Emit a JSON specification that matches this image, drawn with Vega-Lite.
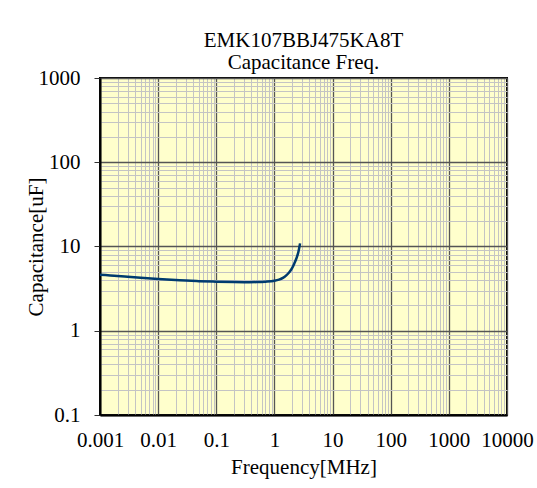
{
  "$schema": "https://vega.github.io/schema/vega-lite/v6.json",
  "width": 407,
  "height": 337,
  "autosize": {"type": "none"},
  "padding": {"left": 100, "top": 78, "right": 30, "bottom": 73},
  "background": "white",
  "config": {
    "font": "Liberation Serif",
    "view": {"fill": "#ffffcc", "stroke": "#000000", "strokeWidth": 2}
  },
  "title": {
    "text": ["EMK107BBJ475KA8T", "Capacitance Freq."],
    "font": "Liberation Serif",
    "fontSize": 21,
    "fontWeight": "normal",
    "color": "#000000",
    "lineHeight": 22,
    "anchor": "middle",
    "frame": "group",
    "offset": -6
  },
  "data": {
    "values": [
      {"freq": 0.001, "cap": 4.62},
      {"freq": 0.002, "cap": 4.48},
      {"freq": 0.003, "cap": 4.38},
      {"freq": 0.005, "cap": 4.26},
      {"freq": 0.01, "cap": 4.12},
      {"freq": 0.02, "cap": 4.0},
      {"freq": 0.03, "cap": 3.94},
      {"freq": 0.05, "cap": 3.88},
      {"freq": 0.1, "cap": 3.82},
      {"freq": 0.2, "cap": 3.78},
      {"freq": 0.3, "cap": 3.77},
      {"freq": 0.5, "cap": 3.78},
      {"freq": 0.7, "cap": 3.82},
      {"freq": 1.0, "cap": 3.92},
      {"freq": 1.2, "cap": 4.05},
      {"freq": 1.4, "cap": 4.25},
      {"freq": 1.6, "cap": 4.55},
      {"freq": 1.8, "cap": 4.95},
      {"freq": 2.0, "cap": 5.5},
      {"freq": 2.2, "cap": 6.3},
      {"freq": 2.4, "cap": 7.3},
      {"freq": 2.6, "cap": 8.8},
      {"freq": 2.76, "cap": 10.9}
    ]
  },
  "mark": {"type": "line", "interpolate": "monotone", "color": "#003b6f", "strokeWidth": 2.5},
  "encoding": {
    "x": {
      "field": "freq",
      "type": "quantitative",
      "scale": {"type": "log", "domain": [0.001, 10000], "nice": false},
      "axis": {
        "values": [0.001, 0.002, 0.003, 0.004, 0.005, 0.006, 0.007, 0.008, 0.009,
                   0.01, 0.02, 0.03, 0.04, 0.05, 0.06, 0.07, 0.08, 0.09,
                   0.1, 0.2, 0.3, 0.4, 0.5, 0.6, 0.7, 0.8, 0.9,
                   1, 2, 3, 4, 5, 6, 7, 8, 9,
                   10, 20, 30, 40, 50, 60, 70, 80, 90,
                   100, 200, 300, 400, 500, 600, 700, 800, 900,
                   1000, 2000, 3000, 4000, 5000, 6000, 7000, 8000, 9000, 10000],
        "title": "Frequency[MHz]",
        "titleFont": "Liberation Serif",
        "titleFontSize": 21,
        "titleFontWeight": "normal",
        "titleColor": "#000000",
        "titlePadding": 6,
        "labelFont": "Liberation Serif",
        "labelFontSize": 21,
        "labelFontWeight": "normal",
        "labelColor": "#000000",
        "labelPadding": 14,
        "labelOverlap": false,
        "labelFlush": false,
        "labelExpr": "abs(log(datum.value)/LN10 - round(log(datum.value)/LN10)) < 0.000001 ? format(datum.value, '~g') : ''",
        "ticks": false,
        "grid": true,
        "gridColor": {"condition": {"test": "abs(log(datum.value)/LN10 - round(log(datum.value)/LN10)) < 0.000001", "value": "#555555"}, "value": "#c4c4c4"},
        "gridWidth": {"condition": {"test": "abs(log(datum.value)/LN10 - round(log(datum.value)/LN10)) < 0.000001", "value": 1.3}, "value": 1},
        "domainColor": "#000000",
        "domainWidth": 2
      }
    },
    "y": {
      "field": "cap",
      "type": "quantitative",
      "scale": {"type": "log", "domain": [0.1, 1000], "nice": false},
      "axis": {
        "values": [0.1, 0.2, 0.3, 0.4, 0.5, 0.6, 0.7, 0.8, 0.9,
                   1, 2, 3, 4, 5, 6, 7, 8, 9,
                   10, 20, 30, 40, 50, 60, 70, 80, 90,
                   100, 200, 300, 400, 500, 600, 700, 800, 900, 1000],
        "title": "Capacitance[uF]",
        "titleFont": "Liberation Serif",
        "titleFontSize": 21,
        "titleFontWeight": "normal",
        "titleColor": "#000000",
        "titlePadding": -8,
        "labelFont": "Liberation Serif",
        "labelFontSize": 21,
        "labelFontWeight": "normal",
        "labelColor": "#000000",
        "labelPadding": 14,
        "labelOverlap": false,
        "labelFlush": false,
        "labelExpr": "abs(log(datum.value)/LN10 - round(log(datum.value)/LN10)) < 0.000001 ? format(datum.value, '~g') : ''",
        "ticks": true,
        "tickSize": 6,
        "tickColor": {"condition": {"test": "abs(log(datum.value)/LN10 - round(log(datum.value)/LN10)) < 0.000001", "value": "#333333"}, "value": "transparent"},
        "grid": true,
        "gridColor": {"condition": {"test": "abs(log(datum.value)/LN10 - round(log(datum.value)/LN10)) < 0.000001", "value": "#555555"}, "value": "#c4c4c4"},
        "gridWidth": {"condition": {"test": "abs(log(datum.value)/LN10 - round(log(datum.value)/LN10)) < 0.000001", "value": 1.3}, "value": 1},
        "domainColor": "#000000",
        "domainWidth": 2
      }
    }
  }
}
